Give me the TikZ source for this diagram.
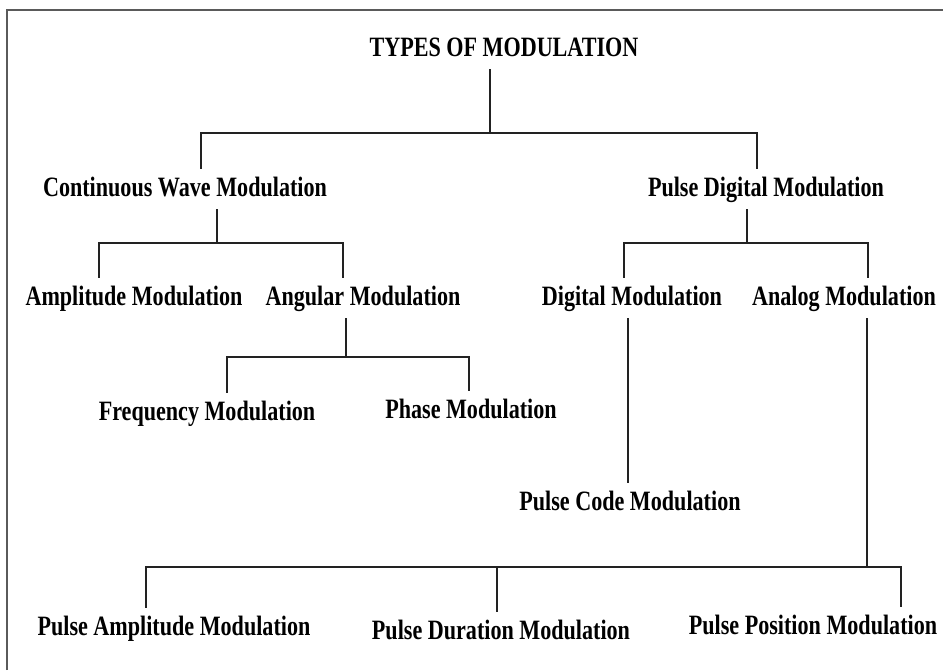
\documentclass[tikz,border=0pt]{standalone}
\usepackage{fontspec}
\setmainfont{Liberation Serif}[FakeStretch=0.79]
\usetikzlibrary{positioning}
\definecolor{treeline}{RGB}{34,34,34}
\definecolor{frameline}{RGB}{90,90,90}
\tikzset{
  kind/.style={font=\bfseries\fontsize{28}{32}\selectfont, anchor=base,
    text height=19pt, text depth=5pt, inner xsep=0pt, inner ysep=8pt},
  branch/.style={draw=treeline, line width=1.5pt},
  frame/.style={draw=frameline, line width=1.6pt}
}

\begin{document}
\begin{tikzpicture}[x=1pt,y=-1pt]
  \useasboundingbox (0,0) rectangle (943,670);
  \draw[frame] (7,670) -- (7,10) -- (943,10);

  \node[kind] (title) at (504,56) {TYPES OF MODULATION};
  \node[kind] (cwm) at (185,196) {Continuous Wave Modulation};
  \node[kind] (pdm) at (766,196) {Pulse Digital Modulation};
  \node[kind] (amp) at (134,305) {Amplitude Modulation};
  \node[kind] (ang) at (363,305) {Angular Modulation};
  \node[kind] (dig) at (632,305) {Digital Modulation};
  \node[kind] (ana) at (844,305) {Analog Modulation};
  \node[kind] (freq) at (207,420) {Frequency Modulation};
  \node[kind] (phase) at (471,418) {Phase Modulation};
  \node[kind] (pcm) at (630,510) {Pulse Code Modulation};
  \node[kind] (pam) at (174,635) {Pulse Amplitude Modulation};
  \node[kind] (pdu) at (501,639) {Pulse Duration Modulation};
  \node[kind] (ppm) at (813,634) {Pulse Position Modulation};

  % top level
  \draw[branch] (490,0 |- title.south) -- (490,133);
  \draw[branch] (201,0 |- cwm.north) |- (757,133) -- (757,0 |- pdm.north);

  % continuous wave side
  \draw[branch] (217,0 |- cwm.south) -- (217,243);
  \draw[branch] (99,0 |- amp.north) |- (343,243) -- (343,0 |- ang.north);
  \draw[branch] (346,0 |- ang.south) -- (346,357);
  \draw[branch] (227,0 |- freq.north) |- (469,357) -- (469,0 |- phase.north);

  % pulse side
  \draw[branch] (747,0 |- pdm.south) -- (747,243);
  \draw[branch] (624,0 |- dig.north) |- (868,243) -- (868,0 |- ana.north);
  \draw[branch] (628,0 |- dig.south) -- (628,0 |- pcm.north);
  \draw[branch] (867,0 |- ana.south) -- (867,567);
  \draw[branch] (146,0 |- pam.north) |- (901,567) -- (901,0 |- ppm.north);
  \draw[branch] (497,567) -- (497,0 |- pdu.north);
\end{tikzpicture}
\end{document}
